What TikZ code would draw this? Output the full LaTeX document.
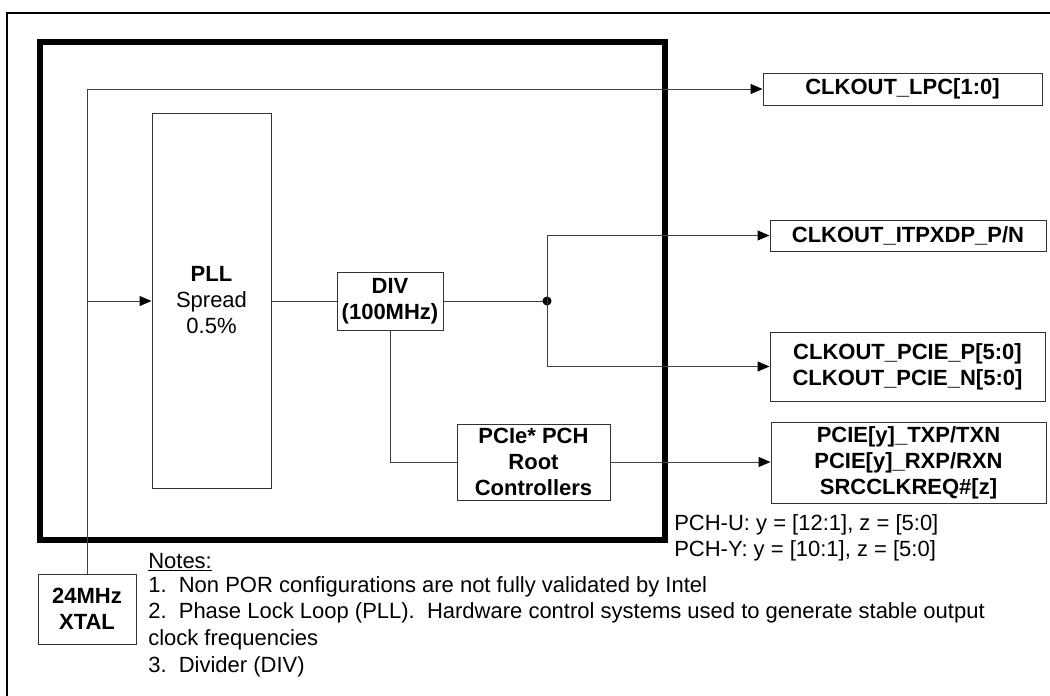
\documentclass[tikz,border=0pt]{standalone}
\usepackage{fontspec}
\setmainfont{Liberation Sans}
\usetikzlibrary{arrows.meta}
\begin{document}
\begin{tikzpicture}[x=0.75pt,y=-0.75pt,
  every node/.style={font=\fontsize{16.5}{19.5}\selectfont},
  blk/.style args={#1/#2}{draw=black!80,line width=0.75pt,fill=white,align=center,inner sep=0pt,
     minimum width=#1*0.75pt,minimum height=#2*0.75pt,font=\fontsize{16.5}{19.5}\selectfont\bfseries},
  wire/.style={draw=black!75,line width=0.75pt},
  arr/.style={wire,-{Triangle[length=9pt,width=7.5pt,color=black]}},
  note/.style={anchor=base west,inner sep=0pt,font=\fontsize{16.5}{19.5}\selectfont}]
\useasboundingbox (0,0) rectangle (1050,696);
\frenchspacing
% outer frame (extends past the page on the right and bottom)
\draw[black,line width=0.9pt] (7,700) -- (7,13) -- (1055,13);
% thick chip boundary
\draw[black,line width=3.8pt] (40,42) rectangle (665,540);

% blocks
\node[blk=119/375] (pll) at (211.5,300.5) {PLL\\\mdseries Spread\\\mdseries 0.5\%};
\node[blk=106/58] (div) at (390,301) {DIV\\(100MHz)};
\node[blk=153/76] (root) at (533.5,462) {PCIe* PCH\\Root\\Controllers};
\node[blk=98/70] (xtal) at (87,609) {24MHz\\XTAL};
\node[blk=279/32] (lpc) at (902.5,89) {CLKOUT\_LPC[1:0]};
\node[blk=276/31] (itp) at (908,235.5) {CLKOUT\_ITPXDP\_P/N};
\node[blk=275/69] (pcie) at (907.5,366.5) {CLKOUT\_PCIE\_P[5:0]\\CLKOUT\_PCIE\_N[5:0]};
\node[blk=275/81] (pciey) at (908.5,462.5) {PCIE[y]\_TXP/TXN\\PCIE[y]\_RXP/RXN\\SRCCLKREQ\#[z]};

% connectors
\coordinate (br) at (88,301);
\coordinate (j) at (547,301);
\draw[arr] (xtal.north) |- (lpc.west);
\draw[arr] (br) -- (br -| pll.west);
\draw[wire] (pll.east |- div.west) -- (div.west);
\draw[wire] (div.east) -- (j);
\fill[black] (j) circle[radius=3.4pt];
\draw[arr] (j) |- (itp.west);
\draw[arr] (j) |- (pcie.west);
\draw[wire] (div.south) |- (root.west);
\draw[arr] (root.east) -- (root.east -| pciey.west);

% side notes
\node[note] (pchu) at (674,530) {PCH-U: y = [12:1], z = [5:0]};
\node[note] (pchy) at (674,556) {PCH-Y: y = [10:1], z = [5:0]};

% notes
\node[note] (nt) at (148,568) {\underline{Notes:}};
\node[note] (n1) at (148,592) {1.\ \ Non POR configurations are not fully validated by Intel};
\node[note] (n2) at (148,618) {2.\ \ Phase Lock Loop (PLL).\ \ Hardware control systems used to generate stable output};
\node[note] (n2b) at (148,645) {clock frequencies};
\node[note] (n3) at (148,672) {3.\ \ Divider (DIV)};
\end{tikzpicture}
\end{document}
